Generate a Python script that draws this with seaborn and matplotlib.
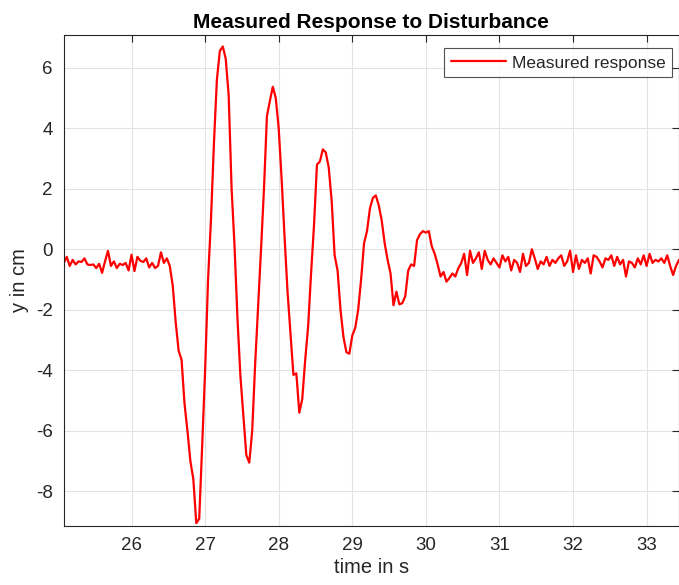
import numpy as np
import pandas as pd
import matplotlib
matplotlib.use("Agg")
import matplotlib.pyplot as plt
import seaborn as sns

# Sampling of the recorded signal
t_start = 25.08
dt = 0.04

# Quiet phase before the disturbance (cm)
y_before = [
    -0.45, -0.25, -0.55, -0.35, -0.50, -0.40, -0.42, -0.30, -0.50, -0.52,
    -0.50, -0.62, -0.48, -0.78, -0.40, -0.05, -0.55, -0.40, -0.62, -0.48,
    -0.52, -0.45, -0.70, -0.18, -0.72, -0.25, -0.38, -0.42, -0.30, -0.60,
    -0.45, -0.62, -0.55, -0.10, -0.45, -0.30,
]

# Disturbance and decaying oscillation (cm)
y_transient = [
    -0.55, -1.20, -2.40, -3.35, -3.65, -5.10, -6.00, -7.00, -7.60, -9.05,
    -8.90, -6.50, -4.00, -1.00, 1.00, 3.50, 5.60, 6.55, 6.70, 6.30,
    5.10, 2.00, 0.10, -2.30, -4.20, -5.50, -6.80, -7.05, -6.00, -3.80,
    -1.90, 0.00, 2.00, 4.40, 4.90, 5.37, 5.00, 4.00, 2.30, 0.40,
    -1.40, -2.80, -4.15, -4.10, -5.40, -4.95, -3.66, -2.55, -0.80, 0.80,
    2.80, 2.90, 3.30, 3.20, 2.70, 1.60, -0.20, -0.70, -2.00, -2.90,
    -3.40, -3.45, -2.85, -2.60, -2.00, -1.00, 0.20, 0.60, 1.35, 1.70,
    1.78, 1.45, 0.95, 0.20, -0.35, -0.80, -1.85, -1.40, -1.82, -1.78,
    -1.55, -0.70, -0.50, -0.55, 0.30, 0.50, 0.60, 0.55, 0.60, 0.10,
    -0.15, -0.50, -0.90, -0.75, -1.07, -0.95, -0.80, -0.90, -0.63, -0.46,
]

# Settled phase after the disturbance (cm)
y_after = [
    -0.15, -0.85, -0.05, -0.45, -0.30, -0.10, -0.65, -0.05, -0.35, -0.50,
    -0.30, -0.45, -0.60, -0.20, -0.40, -0.25, -0.70, -0.35, -0.45, -0.75,
    -0.15, -0.55, -0.45, 0.00, -0.30, -0.65, -0.40, -0.50, -0.25, -0.55,
    -0.35, -0.45, -0.30, -0.20, -0.55, -0.40, -0.05, -0.75, -0.20, -0.65,
    -0.35, -0.45, -0.30, -0.80, -0.20, -0.25, -0.40, -0.60, -0.30, -0.35,
    -0.20, -0.55, -0.25, -0.50, -0.35, -0.90, -0.40, -0.45, -0.60, -0.30,
    -0.50, -0.20, -0.55, -0.15, -0.45, -0.35, -0.40, -0.30, -0.45, -0.20,
    -0.55, -0.85, -0.55, -0.35,
]

x_ticks = [26, 27, 28, 29, 30, 31, 32, 33]
y_ticks = [-8, -6, -4, -2, 0, 2, 4, 6]

y = np.array(y_before + y_transient + y_after)
t = t_start + dt * np.arange(len(y))
df = pd.DataFrame({"time in s": t, "y in cm": y, "series": "Measured response"})

sns.set_style("whitegrid")
plt.rcParams["font.family"] = ["Liberation Sans", "DejaVu Sans"]
plt.rcParams["axes.unicode_minus"] = False

fig = plt.figure(figsize=(6.79, 5.85), dpi=100)
ax = fig.add_axes([0.094, 0.101, 0.906, 0.8397])

sns.lineplot(data=df, x="time in s", y="y in cm", hue="series",
             palette=["#ff0000"], linewidth=1.6, ax=ax, estimator=None,
             sort=False)

ax.set_xlim(25.08, 33.44)
ax.set_ylim(-9.14, 7.09)
ax.set_xticks(x_ticks)
ax.set_yticks(y_ticks)
ax.tick_params(axis="both", which="both", direction="in", length=5,
               width=0.8, color="#262626", labelsize=13.5,
               labelcolor="#262626", top=True, right=True, pad=8)
ax.grid(True, color="#e3e3e3", linewidth=0.8)
for side in ax.spines.values():
    side.set_visible(True)
    side.set_color("#262626")
    side.set_linewidth(0.8)

ax.set_title("Measured Response to Disturbance", fontsize=15,
             fontweight="bold", color="black", pad=5)
ax.set_xlabel("time in s", fontsize=14.5, color="#262626", labelpad=3)
ax.set_ylabel("y in cm", fontsize=14.5, color="#262626", labelpad=5)

leg = ax.legend(loc="upper right", bbox_to_anchor=(0.989, 0.972),
                borderaxespad=0, fontsize=12.5, frameon=True,
                fancybox=False, handlelength=3.2, handletextpad=0.3,
                borderpad=0.4)
leg.get_frame().set_edgecolor("#262626")
leg.get_frame().set_linewidth(0.8)

fig.savefig("out.png", dpi=100, facecolor="white")
